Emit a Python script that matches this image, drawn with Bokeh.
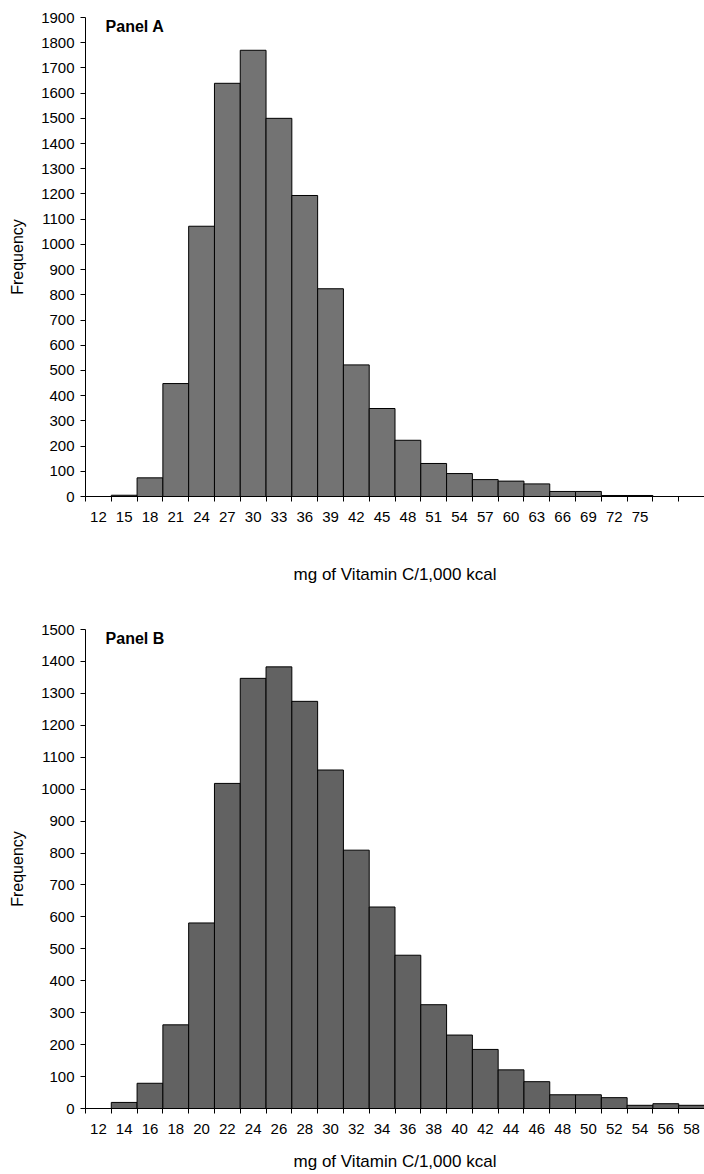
from bokeh.plotting import figure
from bokeh.models import FixedTicker, Label, Range1d
from bokeh.layouts import column
from bokeh.embed import file_html
from bokeh.resources import INLINE

# ---------------- data ----------------
a_bins = [12, 15, 18, 21, 24, 27, 30, 33, 36, 39, 42, 45, 48, 51, 54, 57, 60, 63, 66, 69, 72, 75]
a_freq = [0, 5, 74, 448, 1072, 1639, 1770, 1500, 1194, 824, 522, 349, 223, 131, 91, 67, 61, 50, 20, 20, 4, 4]

b_bins = [12, 14, 16, 18, 20, 22, 24, 26, 28, 30, 32, 34, 36, 38, 40, 42, 44, 46, 48, 50, 52, 54, 56, 58]
b_freq = [0, 19, 79, 262, 581, 1018, 1347, 1383, 1275, 1060, 809, 631, 480, 325, 230, 185, 121, 84, 43, 43, 34, 10, 15, 10]

x_title = "mg of Vitamin C/1,000 kcal"
y_title = "Frequency"
panel_titles = ["Panel A", "Panel B"]

FONT = "Liberation Sans"
N_SLOTS = 24


def make_panel(bins, freq, step, ymax, title, fill, height, top, bottom, title_standoff):
    x0 = bins[0] - step / 2
    x1 = x0 + N_SLOTS * step
    p = figure(width=704, height=height,
               x_range=Range1d(x0, x1), y_range=Range1d(0, ymax),
               output_backend="svg", toolbar_location=None,
               min_border_left=85, min_border_right=0,
               min_border_top=top, min_border_bottom=bottom)
    p.outline_line_color = None
    p.grid.visible = False
    p.background_fill_color = "white"
    p.border_fill_color = "white"

    p.vbar(x=bins, top=freq, width=step, bottom=0,
           fill_color=fill, line_color="black", line_width=1)

    bounds = [x0 + k * step for k in range(N_SLOTS + 1)]
    xa = p.xaxis[0]
    xa.ticker = FixedTicker(ticks=bins, minor_ticks=bounds)
    xa.major_tick_line_color = None
    xa.major_tick_in = 0
    xa.major_tick_out = 5
    xa.minor_tick_in = 0
    xa.minor_tick_out = 5
    xa.minor_tick_line_color = "black"
    xa.axis_line_color = "black"
    xa.major_label_standoff = 10
    xa.major_label_text_font = FONT
    xa.major_label_text_font_size = "15px"
    xa.major_label_text_color = "black"
    xa.axis_label = x_title
    xa.axis_label_text_font = FONT
    xa.axis_label_text_font_size = "17px"
    xa.axis_label_text_font_style = "normal"
    xa.axis_label_text_color = "black"
    xa.axis_label_standoff = title_standoff

    ya = p.yaxis[0]
    ya.ticker = FixedTicker(ticks=list(range(0, ymax + 1, 100)))
    ya.major_tick_in = 0
    ya.major_tick_out = 5
    ya.minor_tick_line_color = None
    ya.major_tick_line_color = "black"
    ya.axis_line_color = "black"
    ya.major_label_standoff = 6
    ya.major_label_text_font = FONT
    ya.major_label_text_font_size = "15px"
    ya.major_label_text_color = "black"
    ya.axis_label = y_title
    ya.axis_label_text_font = FONT
    ya.axis_label_text_font_size = "16px"
    ya.axis_label_text_font_style = "normal"
    ya.axis_label_text_color = "black"
    ya.axis_label_standoff = 12

    lab = Label(x=x0 + 0.78 * step, y=ymax, text=title,
                text_baseline="top", text_align="left",
                text_font=FONT, text_font_size="16px", text_font_style="bold",
                text_color="black")
    p.add_layout(lab)
    return p


pa = make_panel(a_bins, a_freq, 3, 1900, panel_titles[0], "#737373",
                height=608, top=17, bottom=112, title_standoff=40)
pb = make_panel(b_bins, b_freq, 2, 1500, panel_titles[1], "#626262",
                height=566, top=21, bottom=66, title_standoff=15)

layout = column(pa, pb, spacing=0)
open("out.html", "w").write(file_html(layout, INLINE))
